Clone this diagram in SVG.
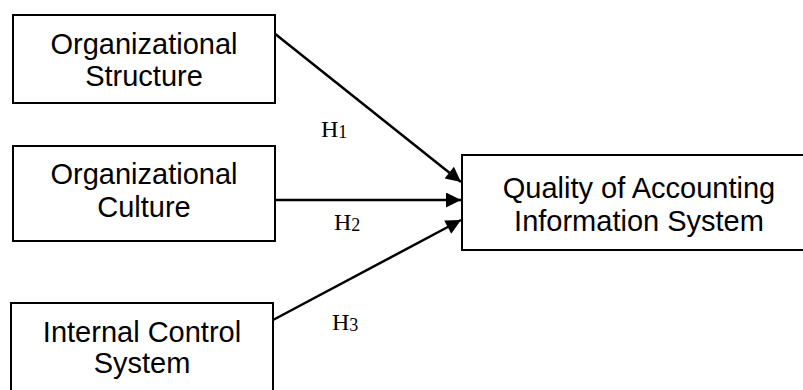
<svg xmlns="http://www.w3.org/2000/svg" width="803" height="390" viewBox="0 0 803 390">
<style>
.box{fill:#fff;stroke:#000;stroke-width:2}
.t{font-family:"Liberation Sans",Arial,sans-serif;font-size:29px;fill:#000;text-anchor:middle}
.h{font-family:"Liberation Serif","Times New Roman",serif;font-size:24px;fill:#000}
.c{stroke:#000;stroke-width:2.5;fill:none;marker-end:url(#ah)}
</style>
<defs>
<marker id="ah" viewBox="0 0 10 10" refX="10" refY="5" markerWidth="7" markerHeight="6" markerUnits="strokeWidth" orient="auto">
<path d="M0,0 L10,5 L0,10 z" fill="#000"/>
</marker>
</defs>
<rect width="803" height="390" fill="#fff"/>
<g id="connectors">
<line class="c" x1="274" y1="33" x2="461" y2="182"/>
<line class="c" x1="275" y1="200" x2="461" y2="200"/>
<line class="c" x1="273" y1="320" x2="461" y2="220"/>
</g>
<g id="n1">
<rect class="box" x="13" y="15" width="262" height="88"/>
<text class="t" x="144" y="54">Organizational</text>
<text class="t" x="144" y="86">Structure</text>
</g>
<g id="n2">
<rect class="box" x="13" y="146" width="262" height="95"/>
<text class="t" x="144" y="184">Organizational</text>
<text class="t" x="144" y="217">Culture</text>
</g>
<g id="n3">
<rect class="box" x="11" y="303" width="262" height="100"/>
<text class="t" x="142" y="342">Internal Control</text>
<text class="t" x="142" y="373">System</text>
</g>
<g id="n4">
<rect class="box" x="462" y="155" width="360" height="95"/>
<text class="t" x="639" y="198">Quality of Accounting</text>
<text class="t" x="639" y="231">Information System</text>
</g>
<g id="labels">
<text class="h" x="321" y="137">H<tspan font-size="18" dy="1">1</tspan></text>
<text class="h" x="334" y="230">H<tspan font-size="18" dy="1">2</tspan></text>
<text class="h" x="332" y="330">H<tspan font-size="18" dy="1">3</tspan></text>
</g>
</svg>
